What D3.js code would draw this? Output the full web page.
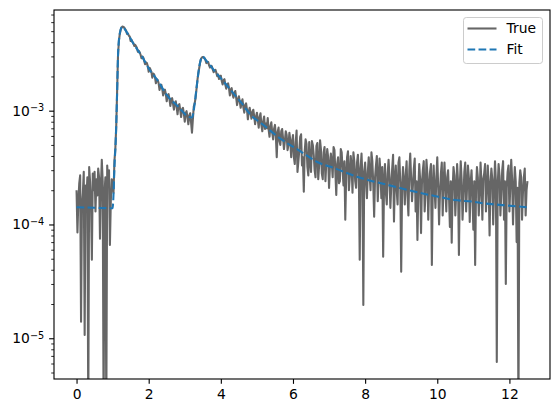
<!DOCTYPE html>
<html>
<head>
<meta charset="utf-8">
<script src="https://cdn.jsdelivr.net/npm/d3@7"></script>
<style>
	body { margin: 0; background: #fff; }
	text { font-family: "DejaVu Sans", sans-serif; }
</style>
</head>
<body>
<svg id="chart" width="559" height="413"></svg>
<script>
// measured signal, sampled every 0.025 from t = 0, values in units of 1e-4
const tStart = 0;
const tStep = 0.025;
const unit = 1e-4;
const trueVals = [
	// 0 .. 1
	2.0, 0.85, 1.6, 2.3, 2.7, 0.14, 1.5, 1.9, 2.9, 0.107, 2.2, 1.7, 2.6, 0.02, 3.2, 2.4, 1.6, 0.49, 2.8, 2.0,
	2.9, 1.3, 2.5, 1.8, 3.1, 2.6, 0.75, 2.1, 3.7, 2.4, 0.02, 1.9, 2.6, 0.02, 3.3, 2.3, 3.0, 0.66, 1.6, 2.5, 2.2,
	// first rise
	1.9, 3.6, 4.6, 7.2, 15, 31, 41, 47.5, 51.5, 53.8, 54.9, 54.5,
	// first decay, 1.325 .. 3.2
	53.6, 51.8, 50.5, 47.2, 47.6, 45.6, 44.8, 41.0, 41.9, 40.2, 39.3, 37.0, 37.9, 36.8, 35.6, 32.9, 33.6, 32.6, 31.0, 28.9,
	29.9, 29.3, 27.4, 25.6, 26.6, 26.2, 24.5, 22.0, 23.8, 23.0, 21.9, 19.5, 21.2, 20.9, 19.6, 17.4, 18.9, 18.6, 17.5, 15.2,
	16.4, 16.9, 15.6, 13.6, 14.6, 15.3, 14.0, 12.1, 13.6, 14.0, 12.7, 11.0, 12.4, 12.9, 11.5, 10.2, 11.6, 12.1, 10.8, 9.3,
	11.1, 11.4, 10.1, 8.8, 10.3, 10.6, 9.4, 8.0, 9.5, 9.9, 8.7, 7.6, 9.1, 9.5, 7.9, 6.4,
	// second pulse, 3.225 .. 3.9
	8.4, 10.9, 11.6, 13.0, 15.5, 18.5, 21.3, 23.6, 26.5, 28.4, 29.4, 29.6, 29.5, 28.9, 27.8, 26.2, 26.9, 26.8, 25.0, 23.9,
	24.8, 24.6, 23.0, 21.8, 22.5, 22.9, 21.6, 20.1,
	// 3.925 .. 5
	20.8, 19.0, 19.9, 20.3, 18.2, 17.0, 18.5, 18.9, 16.9, 15.6, 17.0, 17.4, 15.9, 13.6, 15.3, 15.8, 14.0, 13.0, 14.2, 14.9,
	13.0, 11.2, 12.5, 13.4, 12.0, 10.6, 11.8, 12.6, 10.7, 9.6, 11.2, 11.6, 10.2, 8.4, 9.9, 10.6, 9.5, 8.5, 9.7, 10.2,
	8.9, 7.6, 8.8, 9.6,
	// 5.025 .. 6
	8.3, 7.1, 8.8, 9.5, 7.4, 6.6, 8.1, 8.9, 6.9, 7.7, 7.0, 8.6, 6.8, 5.9, 7.3, 7.9, 6.4, 5.6, 6.9, 7.5,
	6.0, 3.9, 6.5, 7.1, 5.4, 5.0, 6.6, 6.9, 5.7, 4.6, 5.4, 6.6, 6.1, 4.5, 5.0, 6.4, 5.5, 3.9, 5.3, 6.1,
	// 6.025 .. 7
	3.9, 3.4, 5.3, 6.7, 2.9, 3.6, 4.5, 5.9, 6.2, 3.3, 3.9, 1.94, 4.4, 5.6, 5.1, 3.2, 2.7, 5.3, 3.6, 2.9,
	5.4, 5.0, 4.1, 3.0, 2.6, 4.9, 5.2, 2.5, 3.3, 5.5, 4.6, 2.8, 2.5, 4.3, 4.8, 2.4, 3.6, 4.6, 3.9, 2.09,
	// 7.025 .. 8
	3.3, 4.2, 3.5, 2.6, 4.8, 4.5, 2.9, 1.82, 3.4, 3.9, 2.3, 2.4, 4.6, 4.3, 3.0, 2.2, 3.6, 1.1, 2.7, 3.9,
	4.4, 2.0, 2.6, 4.0, 3.3, 1.9, 4.3, 3.6, 2.4, 2.1, 3.5, 4.1, 2.8, 0.49, 3.1, 4.2, 2.6, 0.196, 2.9, 3.5,
	// 8.025 .. 9
	2.4, 1.7, 2.9, 3.9, 2.7, 2.0, 4.3, 3.6, 2.3, 1.17, 2.6, 3.3, 4.0, 1.6, 2.5, 3.8, 2.9, 1.7, 3.2, 0.52,
	2.4, 3.4, 1.9, 1.5, 2.8, 3.7, 2.6, 1.4, 2.2, 3.1, 4.1, 1.06, 2.5, 3.3, 2.0, 1.5, 3.5, 3.9, 2.3, 0.385,
	// 9.025 .. 10
	2.1, 3.2, 2.4, 1.5, 2.7, 3.6, 1.8, 1.2, 3.0, 4.2, 2.6, 1.6, 2.2, 3.1, 3.8, 1.3, 2.4, 0.73, 2.0, 3.4,
	2.5, 0.84, 2.3, 3.0, 3.6, 1.3, 1.9, 3.7, 2.8, 1.1, 2.2, 2.9, 3.4, 0.44, 2.1, 3.3, 2.0, 1.4, 2.6, 3.9,
	// 10.025 .. 11
	2.2, 1.0, 1.9, 2.8, 3.5, 1.2, 2.3, 3.5, 2.1, 1.3, 2.6, 3.0, 1.8, 0.95, 2.4, 0.69, 2.0, 3.2, 2.7, 1.2,
	1.9, 3.4, 2.4, 0.54, 2.2, 3.6, 2.5, 1.1, 1.7, 2.9, 3.5, 1.3, 2.1, 3.3, 2.6, 1.05, 2.3, 3.0, 1.8, 0.9,
	// 11.025 .. 12
	2.4, 0.44, 2.1, 3.2, 2.6, 1.2, 1.8, 3.5, 2.3, 1.1, 2.5, 2.8, 3.4, 1.3, 2.0, 3.3, 2.2, 0.8, 2.3, 3.1,
	2.5, 1.0, 2.0, 3.6, 2.4, 0.062, 2.2, 3.4, 2.7, 1.2, 1.9, 3.0, 3.6, 1.1, 2.4, 0.30, 2.1, 2.9, 3.3, 1.3,
	// 12.025 .. 12.5
	2.2, 3.7, 2.5, 1.0, 2.0, 3.2, 2.4, 0.7, 2.1, 0.02, 2.3, 3.0, 2.6, 1.1, 1.9, 2.6, 3.1, 1.2, 2.0, 2.4
];

// fitted curve, read at its turning points (units of 1e-4)
const fitT = [0, 0.5, 1.0, 1.02, 1.05, 1.09, 1.12, 1.155, 1.2, 1.24, 1.28, 1.35, 1.45, 1.57, 1.8, 2.03, 2.25, 2.5, 2.8, 3.1, 3.2,
	3.27, 3.33, 3.42, 3.49, 3.6, 3.88, 4.1, 4.35, 4.6, 4.81, 5.2, 5.64, 6.2, 6.66, 7.2, 7.77, 8.2, 8.64, 9.1, 9.57, 10.0,
	10.49, 11.0, 11.28, 11.8, 12.5];
const fitVals = [1.416, 1.403, 1.39, 1.7, 3.16, 5.9, 12.6, 33.9, 47.9, 53.5, 54.7, 51.4, 45.8, 39.1, 30.5, 22.8, 18.4, 13.74, 11.0, 8.85, 8.7,
	11.2, 16.2, 26.1, 29.9, 27.4, 21.3, 17.7, 14.2, 11.4, 9.33, 7.4, 5.71, 4.41, 3.56, 3.08, 2.63, 2.40, 2.22, 2.04, 1.88, 1.76,
	1.64, 1.585, 1.535, 1.48, 1.416];

const xTicks = [0, 2, 4, 6, 8, 10, 12];
const yTicks = [1e-5, 1e-4, 1e-3];
const yExps = ['\u22125', '\u22124', '\u22123'];
const seriesNames = ['True', 'Fit'];

const svg = d3.select('#chart');
const plotLeft = 54, plotRight = 550, plotTop = 10, plotBottom = 379;
const pt = 100 / 72;
const fontSize = 10 * pt;
const lineWidth = 1.5 * pt;
const dash = `${3.7 * lineWidth},${1.6 * lineWidth}`;

const x = d3.scaleLinear()
	.domain([-0.625, 13.125])
	.range([plotLeft, plotRight]);

const y = d3.scaleLog()
	.domain([4.385e-6, 7.67e-3])
	.range([plotBottom, plotTop]);

const trueData = trueVals.map((v, i) => ({ t: tStart + i * tStep, v: v * unit }));
const fitData = fitT.map((t, i) => ({ t: t, v: fitVals[i] * unit }));

svg.append('defs').append('clipPath')
	.attr('id', 'plot-clip')
	.append('rect')
	.attr('x', plotLeft)
	.attr('y', plotTop)
	.attr('width', plotRight - plotLeft)
	.attr('height', plotBottom - plotTop);

const plot = svg.append('g').attr('clip-path', 'url(#plot-clip)');

const line = d3.line()
	.x(d => x(d.t))
	.y(d => y(d.v));

plot.append('path')
	.datum(trueData)
	.attr('d', line)
	.attr('fill', 'none')
	.attr('stroke', '#666666')
	.attr('stroke-width', lineWidth)
	.attr('stroke-linejoin', 'round');

plot.append('path')
	.datum(fitData)
	.attr('d', line.curve(d3.curveMonotoneX))
	.attr('fill', 'none')
	.attr('stroke', '#1f77b4')
	.attr('stroke-width', lineWidth)
	.attr('stroke-dasharray', dash);

// x axis
const xAxis = svg.append('g')
	.attr('transform', `translate(0, ${plotBottom})`)
	.call(d3.axisBottom(x).tickValues(xTicks).tickSize(3.5 * pt).tickPadding(3.5 * pt));

// y axis, major and minor ticks
const yAxis = svg.append('g')
	.attr('transform', `translate(${plotLeft}, 0)`)
	.call(d3.axisLeft(y).tickValues(yTicks).tickSize(3.5 * pt).tickFormat(''));

const minor = y.ticks().filter(v => !yTicks.some(m => Math.abs(m - v) / m < 1e-6));
svg.append('g')
	.attr('transform', `translate(${plotLeft}, 0)`)
	.call(d3.axisLeft(y).tickValues(minor).tickSize(2 * pt).tickFormat(''))
	.call(g => g.selectAll('line').attr('stroke', '#000').attr('stroke-width', 0.6 * pt))
	.call(g => g.select('.domain').remove());

[xAxis, yAxis].forEach(g => {
	g.select('.domain').remove();
	g.selectAll('line').attr('stroke', '#000').attr('stroke-width', 0.8 * pt);
	g.selectAll('text')
		.attr('font-family', '"DejaVu Sans", sans-serif')
		.attr('font-size', fontSize)
		.attr('fill', '#000');
});

const yLabels = svg.append('g')
	.selectAll('text')
	.data(yTicks)
	.enter()
	.append('text')
	.attr('x', plotLeft - 7 * pt)
	.attr('y', d => y(d))
	.attr('dy', '0.35em')
	.attr('text-anchor', 'end')
	.attr('font-size', fontSize)
	.attr('fill', '#000');

yLabels.append('tspan').text('10');
yLabels.append('tspan')
	.attr('dy', '-0.45em')
	.attr('font-size', fontSize * 0.7)
	.text((d, i) => yExps[i]);

// frame
svg.append('rect')
	.attr('x', plotLeft)
	.attr('y', plotTop)
	.attr('width', plotRight - plotLeft)
	.attr('height', plotBottom - plotTop)
	.attr('fill', 'none')
	.attr('stroke', '#000')
	.attr('stroke-width', 0.8 * pt);

// legend
const legend = svg.append('g').attr('transform', 'translate(463.5, 17.5)');

legend.append('rect')
	.attr('width', 79)
	.attr('height', 46)
	.attr('rx', 2.8)
	.attr('fill', '#fff')
	.attr('fill-opacity', 0.8)
	.attr('stroke', '#cccccc')
	.attr('stroke-width', 1);

const items = legend.selectAll('g.item')
	.data(seriesNames)
	.enter()
	.append('g')
	.attr('class', 'item')
	.attr('transform', (d, i) => `translate(0, ${11 + i * 21})`);

items.append('line')
	.attr('x1', 4)
	.attr('x2', 33)
	.attr('stroke', (d, i) => i === 0 ? '#666666' : '#1f77b4')
	.attr('stroke-width', lineWidth)
	.attr('stroke-dasharray', (d, i) => i === 0 ? null : dash);

items.append('text')
	.attr('x', 43)
	.attr('dy', '0.35em')
	.attr('font-size', fontSize)
	.attr('fill', '#000')
	.text(d => d);
</script>
</body>
</html>
